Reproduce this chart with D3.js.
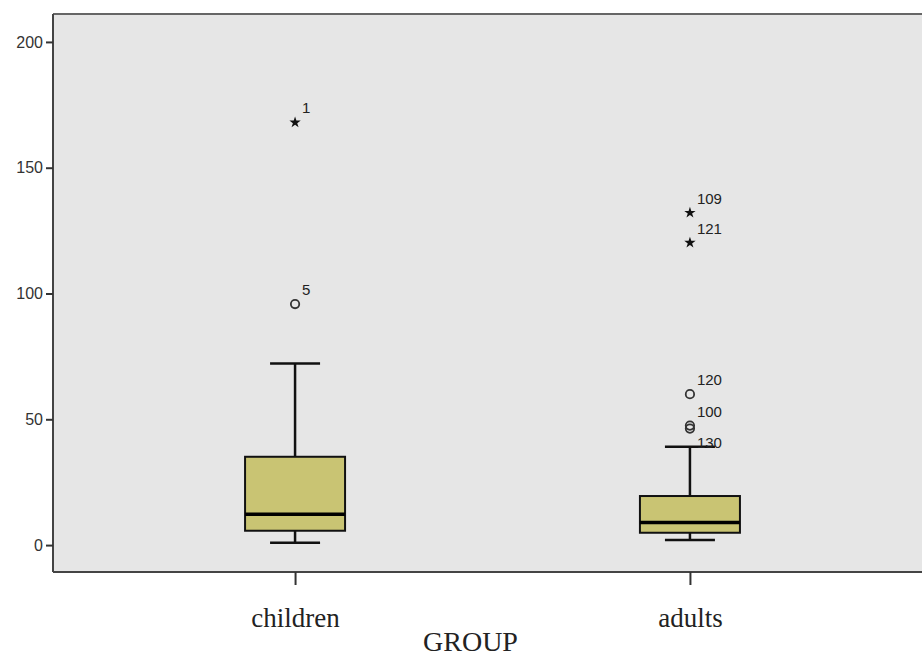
<!DOCTYPE html>
<html>
<head>
<meta charset="utf-8">
<script src="https://cdn.jsdelivr.net/npm/d3@7"></script>
<style>
  body { margin: 0; background: #fff; }
  svg { display: block; }
</style>
</head>
<body>
<div id="chart"></div>
<script>
// Datos del diagrama de caja
const groups = ["children", "adults"];
const whiskerLow = [0.9, 2.0];
const q1 = [5.7, 4.9];
const median = [12.3, 9.0];
const q3 = [35.1, 19.5];
const whiskerHigh = [72.2, 39.1];

// Valores atípicos
const outlierGroup = ["children", "children", "adults", "adults", "adults", "adults", "adults"];
const outlierValue = [168, 95.8, 132.1, 120.2, 60.0, 47.5, 46.3];
const outlierCase = ["1", "5", "109", "121", "120", "100", "130"];
const outlierKind = ["extreme", "mild", "extreme", "extreme", "mild", "mild", "mild"];

const yTicks = [0, 50, 100, 150, 200];
const xTitle = "GROUP";

const width = 922;
const height = 657;
const plot = { left: 53, right: 932, top: 14, bottom: 572 };

const svg = d3.select("#chart").append("svg")
    .attr("width", width)
    .attr("height", height);

const x = d3.scalePoint()
    .domain(groups)
    .range([plot.left, plot.right])
    .padding(0.613);

const y = d3.scaleLinear()
    .domain([-10.7, 211.1])
    .range([plot.bottom, plot.top]);

// Fondo del área de trazado
svg.append("rect")
    .attr("x", plot.left)
    .attr("y", plot.top)
    .attr("width", plot.right - plot.left)
    .attr("height", plot.bottom - plot.top)
    .attr("fill", "#e6e6e6");

// Borde superior
svg.append("line")
    .attr("x1", plot.left).attr("x2", plot.right)
    .attr("y1", plot.top).attr("y2", plot.top)
    .attr("stroke", "#666").attr("stroke-width", 2);

// Eje Y
const yAxis = svg.append("g")
    .attr("transform", `translate(${plot.left},0)`)
    .call(d3.axisLeft(y).tickValues(yTicks).tickSize(7).tickPadding(3).tickSizeOuter(0));
yAxis.select(".domain").attr("stroke", "#444").attr("stroke-width", 2)
    .attr("d", `M0,${plot.top}V${plot.bottom}`);
yAxis.selectAll(".tick line").attr("stroke", "#333").attr("stroke-width", 2);
yAxis.selectAll(".tick text")
    .attr("font-family", "Liberation Sans, Arial, sans-serif")
    .attr("font-size", 16)
    .attr("fill", "#333");

// Eje X
const xAxis = svg.append("g")
    .attr("transform", `translate(0,${plot.bottom})`)
    .call(d3.axisBottom(x).tickSize(13).tickPadding(23).tickSizeOuter(0));
xAxis.select(".domain").attr("stroke", "#444").attr("stroke-width", 2)
    .attr("d", `M${plot.left},0H${plot.right}`);
xAxis.selectAll(".tick line").attr("stroke", "#333").attr("stroke-width", 2);
xAxis.selectAll(".tick text")
    .attr("font-family", "Liberation Serif, Times New Roman, serif")
    .attr("font-size", 27)
    .attr("fill", "#222");

svg.append("text")
    .attr("x", (plot.left + plot.right) / 2 - 22)
    .attr("y", 651)
    .attr("text-anchor", "middle")
    .attr("font-family", "Liberation Serif, Times New Roman, serif")
    .attr("font-size", 28)
    .attr("fill", "#222")
    .text(xTitle);

// Cajas
const boxWidth = 100;
const capWidth = 50;
const boxes = groups.map((g, i) => ({
    group: g, lo: whiskerLow[i], q1: q1[i], med: median[i], q3: q3[i], hi: whiskerHigh[i]
}));

const box = svg.append("g")
    .selectAll("g")
    .data(boxes)
    .join("g")
    .attr("transform", d => `translate(${x(d.group)},0)`);

// Bigotes
box.append("line")
    .attr("x1", 0).attr("x2", 0)
    .attr("y1", d => y(d.q3)).attr("y2", d => y(d.hi))
    .attr("stroke", "#111").attr("stroke-width", 2.5);
box.append("line")
    .attr("x1", 0).attr("x2", 0)
    .attr("y1", d => y(d.q1)).attr("y2", d => y(d.lo))
    .attr("stroke", "#111").attr("stroke-width", 2.5);
box.append("line")
    .attr("x1", -capWidth / 2).attr("x2", capWidth / 2)
    .attr("y1", d => y(d.hi)).attr("y2", d => y(d.hi))
    .attr("stroke", "#111").attr("stroke-width", 2.5);
box.append("line")
    .attr("x1", -capWidth / 2).attr("x2", capWidth / 2)
    .attr("y1", d => y(d.lo)).attr("y2", d => y(d.lo))
    .attr("stroke", "#111").attr("stroke-width", 2.5);

box.append("rect")
    .attr("x", -boxWidth / 2)
    .attr("width", boxWidth)
    .attr("y", d => y(d.q3))
    .attr("height", d => y(d.q1) - y(d.q3))
    .attr("fill", "#c9c473")
    .attr("stroke", "#111")
    .attr("stroke-width", 2);

// Mediana
box.append("line")
    .attr("x1", -boxWidth / 2).attr("x2", boxWidth / 2)
    .attr("y1", d => y(d.med)).attr("y2", d => y(d.med))
    .attr("stroke", "#000").attr("stroke-width", 3.5);

// Valores atípicos
const outliers = outlierValue.map((v, i) => ({
    group: outlierGroup[i], value: v, label: outlierCase[i], kind: outlierKind[i]
}));

const star = d3.symbol().type(d3.symbolStar).size(40);
const pts = svg.append("g");
outliers.forEach(d => {
    const px = x(d.group), py = y(d.value);
    if (d.kind === "extreme") {
        pts.append("path")
            .attr("d", star())
            .attr("transform", `translate(${px},${py})`)
            .attr("fill", "#111");
    } else {
        pts.append("circle")
            .attr("cx", px).attr("cy", py).attr("r", 4.2)
            .attr("fill", "none")
            .attr("stroke", "#333").attr("stroke-width", 1.8);
    }
});

// Etiquetas de casos, evitando solapamientos
let lastBaseline = {};
outliers.forEach(d => {
    const px = x(d.group), py = y(d.value);
    let base = py - 9;
    const prev = lastBaseline[d.group];
    if (prev !== undefined && Math.abs(base - prev) < 14) base = py + 19;
    lastBaseline[d.group] = base;
    pts.append("text")
        .attr("x", px + 7)
        .attr("y", base)
        .attr("font-family", "Liberation Sans, Arial, sans-serif")
        .attr("font-size", 15)
        .attr("fill", "#222")
        .text(d.label);
});
</script>
</body>
</html>
